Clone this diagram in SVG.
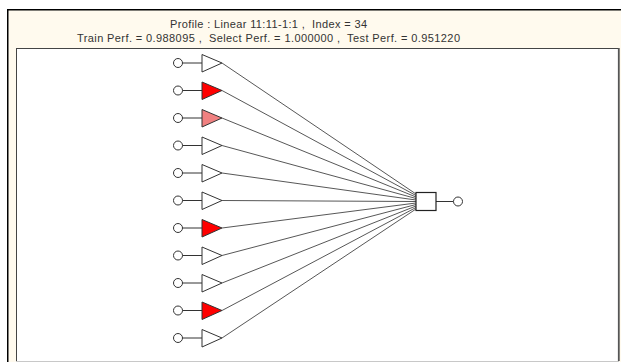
<svg xmlns="http://www.w3.org/2000/svg" width="621" height="362" viewBox="0 0 621 362">
  <defs>
    <style>
      .title { font-family: "Liberation Sans", Arial, sans-serif; font-size: 11px; fill: #333; text-anchor: middle; white-space: pre; }
      .pin { fill: #fff; stroke: #333; stroke-width: 1; }
      .stub { stroke: #333; stroke-width: 1; }
      .unit { stroke: #333; stroke-width: 1; stroke-linejoin: miter; }
      .off { fill: #fff; }
      .hot { fill: #ff0000; }
      .warm { fill: #f08080; }
      .wire { stroke: #444; stroke-width: 0.9; fill: none; }
    </style>
  </defs>

  <!-- window background -->
  <rect x="0" y="0" width="621" height="362" fill="#fff"/>
  <rect x="8" y="10" width="613" height="352" fill="#fffaee"/>
  <path d="M7.75 362 V9.75 H621" fill="none" stroke="#000" stroke-width="1.5"/>

  <!-- title -->
  <text class="title" xml:space="preserve" x="268.5" y="28.3" textLength="197" lengthAdjust="spacing">Profile : Linear 11:11-1:1 ,  Index = 34</text>
  <text class="title" xml:space="preserve" x="268.5" y="41.7" textLength="383" lengthAdjust="spacing">Train Perf. = 0.988095 ,  Select Perf. = 1.000000 ,  Test Perf. = 0.951220</text>

  <!-- plot panel -->
  <rect x="16.5" y="48.5" width="602" height="313" fill="#fff" stroke="#444" stroke-width="1"/>
  <line x1="618.8" y1="48" x2="618.8" y2="361" stroke="#555" stroke-width="1.8"/>
  <line x1="16" y1="361.5" x2="619" y2="361.5" stroke="#c8c8c8" stroke-width="1"/>

  <!-- connectors -->
  <g id="connectors">
    <line class="wire" x1="222" y1="63" x2="416" y2="194"/>
    <line class="wire" x1="222" y1="90.5" x2="416" y2="195.5"/>
    <line class="wire" x1="222" y1="118" x2="416" y2="197"/>
    <line class="wire" x1="222" y1="145.5" x2="416" y2="198.5"/>
    <line class="wire" x1="222" y1="173" x2="416" y2="200"/>
    <line class="wire" x1="222" y1="200.5" x2="416" y2="201.5"/>
    <line class="wire" x1="222" y1="228" x2="416" y2="203"/>
    <line class="wire" x1="222" y1="255.5" x2="416" y2="204.5"/>
    <line class="wire" x1="222" y1="283" x2="416" y2="206"/>
    <line class="wire" x1="222" y1="310.5" x2="416" y2="207.5"/>
    <line class="wire" x1="222" y1="338" x2="416" y2="209"/>
    <line class="stub" x1="436" y1="201.5" x2="453.5" y2="201.5"/>
  </g>

  <!-- input units -->
  <g id="in1"><circle class="pin" cx="178" cy="63" r="4.5"/><line class="stub" x1="182.5" y1="63" x2="202" y2="63"/><path class="unit off" d="M202 54.5 V72 L222 63 Z"/></g>
  <g id="in2"><circle class="pin" cx="178" cy="90.5" r="4.5"/><line class="stub" x1="182.5" y1="90.5" x2="202" y2="90.5"/><path class="unit hot" d="M202 82 V99.5 L222 90.5 Z"/></g>
  <g id="in3"><circle class="pin" cx="178" cy="118" r="4.5"/><line class="stub" x1="182.5" y1="118" x2="202" y2="118"/><path class="unit warm" d="M202 109.5 V127 L222 118 Z"/></g>
  <g id="in4"><circle class="pin" cx="178" cy="145.5" r="4.5"/><line class="stub" x1="182.5" y1="145.5" x2="202" y2="145.5"/><path class="unit off" d="M202 137 V154.5 L222 145.5 Z"/></g>
  <g id="in5"><circle class="pin" cx="178" cy="173" r="4.5"/><line class="stub" x1="182.5" y1="173" x2="202" y2="173"/><path class="unit off" d="M202 164.5 V182 L222 173 Z"/></g>
  <g id="in6"><circle class="pin" cx="178" cy="200.5" r="4.5"/><line class="stub" x1="182.5" y1="200.5" x2="202" y2="200.5"/><path class="unit off" d="M202 192 V209.5 L222 200.5 Z"/></g>
  <g id="in7"><circle class="pin" cx="178" cy="228" r="4.5"/><line class="stub" x1="182.5" y1="228" x2="202" y2="228"/><path class="unit hot" d="M202 219.5 V237 L222 228 Z"/></g>
  <g id="in8"><circle class="pin" cx="178" cy="255.5" r="4.5"/><line class="stub" x1="182.5" y1="255.5" x2="202" y2="255.5"/><path class="unit off" d="M202 247 V264.5 L222 255.5 Z"/></g>
  <g id="in9"><circle class="pin" cx="178" cy="283" r="4.5"/><line class="stub" x1="182.5" y1="283" x2="202" y2="283"/><path class="unit off" d="M202 274.5 V292 L222 283 Z"/></g>
  <g id="in10"><circle class="pin" cx="178" cy="310.5" r="4.5"/><line class="stub" x1="182.5" y1="310.5" x2="202" y2="310.5"/><path class="unit hot" d="M202 302 V319.5 L222 310.5 Z"/></g>
  <g id="in11"><circle class="pin" cx="178" cy="338" r="4.5"/><line class="stub" x1="182.5" y1="338" x2="202" y2="338"/><path class="unit off" d="M202 329.5 V347 L222 338 Z"/></g>

  <!-- output unit -->
  <g id="out">
    <rect x="416" y="192.5" width="20" height="18" fill="#fff" stroke="#222" stroke-width="1.2"/>
    <circle class="pin" cx="458" cy="201.5" r="4.5"/>
  </g>
</svg>
